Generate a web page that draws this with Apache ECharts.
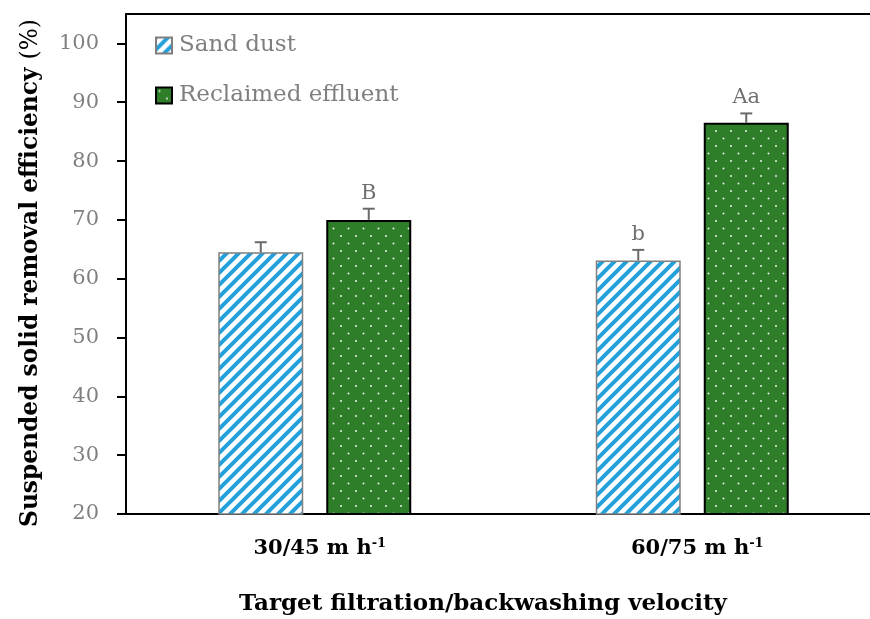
<!DOCTYPE html>
<html><head><meta charset="utf-8">
<script src="https://cdn.jsdelivr.net/npm/echarts@6/dist/echarts.min.js"></script>
<style>html,body{margin:0;padding:0;background:#fff;overflow:hidden}#c{width:870px;height:619px}</style>
</head><body><div id="c"></div>
<script>
const categories = ['30/45', '60/75'];
const seriesNames = ['Sand dust', 'Reclaimed effluent'];
const sandDust = [64.5, 63.1];
const sandDustErr = [1.7, 1.8];
const reclaimed = [70.0, 86.5];
const reclaimedErr = [1.9, 1.6];
const sandDustLetters = ['', 'b'];
const reclaimedLetters = ['B', 'Aa'];
const yTicks = [20, 30, 40, 50, 60, 70, 80, 90, 100];

const FONT = '"DejaVu Serif", serif';
const BAR_W = 85, BAR_GAP = 23;

function stripePattern() {
  const c = document.createElement('canvas'); c.width = 12; c.height = 12;
  const g = c.getContext('2d');
  g.fillStyle = '#fff'; g.fillRect(0, 0, 12, 12);
  g.strokeStyle = '#22a0db'; g.lineWidth = 4;
  g.beginPath();
  g.moveTo(-2, 14); g.lineTo(14, -2);
  g.moveTo(-6, 6); g.lineTo(6, -6);
  g.moveTo(6, 18); g.lineTo(18, 6);
  g.stroke();
  return c;
}
function dotPattern() {
  const c = document.createElement('canvas'); c.width = 15; c.height = 15;
  const g = c.getContext('2d');
  g.fillStyle = '#2e7d28'; g.fillRect(0, 0, 15, 15);
  g.fillStyle = '#e8f0e6';
  g.beginPath(); g.arc(3.5, 3.5, 1, 0, Math.PI * 2); g.fill();
  g.beginPath(); g.arc(11, 11, 1, 0, Math.PI * 2); g.fill();
  return c;
}

function errSeries(values, errs, letters, sign) {
  return {
    type: 'custom', z: 5, silent: true,
    data: values.map((v, i) => [i, v, errs[i]]),
    renderItem: function (params, api) {
      const i = api.value(0), v = api.value(1), e = api.value(2);
      const p = api.coord([i, v]);
      const t = api.coord([i, v + e]);
      const x = p[0] + sign * (BAR_W + BAR_GAP) / 2;
      const st = { stroke: '#6a6a6a', lineWidth: 2 };
      return {
        type: 'group', children: [
          { type: 'line', shape: { x1: x, y1: p[1], x2: x, y2: t[1] }, style: st },
          { type: 'line', shape: { x1: x - 6, y1: t[1], x2: x + 6, y2: t[1] }, style: st },
          { type: 'text', x: x, y: t[1] - 5, style: { text: letters[params.dataIndex], fill: '#707070', font: '21px ' + FONT, textAlign: 'center', textVerticalAlign: 'bottom' } }
        ]
      };
    }
  };
}

const chart = echarts.init(document.getElementById('c'), null, { renderer: 'canvas' });
chart.setOption({
  animation: false,
  backgroundColor: '#fff',
  grid: { left: 126, top: 14, width: 755, height: 500, show: false, outerBoundsMode: 'none', containLabel: false },
  legend: {
    data: seriesNames, orient: 'vertical', left: 155, top: 34, padding: 0, itemWidth: 16, itemHeight: 16, itemGap: 27,
    icon: 'rect', textStyle: { fontFamily: FONT, fontSize: 23, color: '#7f7f7f', padding: [0, 0, 0, 2] }
  },
  xAxis: [{
    type: 'category', data: categories,
    axisLine: { lineStyle: { color: '#000', width: 2 } },
    axisTick: { show: false },
    axisLabel: {
      margin: 23, padding: [0, 0, 0, 10],
      formatter: v => '{b|' + v + ' m h}{s|-1}',
      rich: {
        b: { fontFamily: FONT, fontWeight: 'bold', fontSize: 21, color: '#000' },
        s: { fontFamily: FONT, fontWeight: 'bold', fontSize: 13, color: '#000', verticalAlign: 'top', padding: [0, 0, 10, 0] }
      }
    }
  }, {
    type: 'category', data: categories, position: 'top',
    axisLine: { show: true, lineStyle: { color: '#000', width: 2 } },
    axisTick: { show: false }, axisLabel: { show: false }
  }],
  yAxis: {
    type: 'value', min: 20, max: 105, interval: 10,
    axisLine: { show: true, lineStyle: { color: '#000', width: 2 } },
    axisTick: { show: true, length: 9, lineStyle: { color: '#000', width: 2 }, customValues: yTicks },
    axisLabel: { margin: 27, customValues: yTicks, fontFamily: FONT, fontSize: 21, color: '#808080' },
    splitLine: { show: false }
  },
  graphic: [
    { type: 'rect', z: 100, shape: { x: 855, y: 16, width: 20, height: 496 }, style: { fill: '#fff' } },
    { type: 'text', x: 31, y: 273, rotation: Math.PI / 2,
      style: { text: '{b|Suspended solid removal efficiency }{n|(%)}', textAlign: 'center', textVerticalAlign: 'middle',
        rich: { b: { fontFamily: FONT, fontWeight: 'bold', fontSize: 23.3, fill: '#000' }, n: { fontFamily: FONT, fontSize: 23.3, fill: '#000' } } } },
    { type: 'text', x: 483, y: 604,
      style: { text: 'Target filtration/backwashing velocity', textAlign: 'center', textVerticalAlign: 'middle', font: 'bold 23px ' + FONT, fill: '#000' } }
  ],
  series: [
    { name: seriesNames[0], type: 'bar', data: sandDust, barWidth: BAR_W, barGap: (BAR_GAP / BAR_W * 100) + '%',
      itemStyle: { color: { image: stripePattern(), repeat: 'repeat' }, borderColor: '#7f7f7f', borderWidth: 1.5 } },
    { name: seriesNames[1], type: 'bar', data: reclaimed, barWidth: BAR_W,
      itemStyle: { color: { image: dotPattern(), repeat: 'repeat' }, borderColor: '#000', borderWidth: 2 } },
    errSeries(sandDust, sandDustErr, sandDustLetters, -1),
    errSeries(reclaimed, reclaimedErr, reclaimedLetters, 1)
  ]
});
</script></body></html>
